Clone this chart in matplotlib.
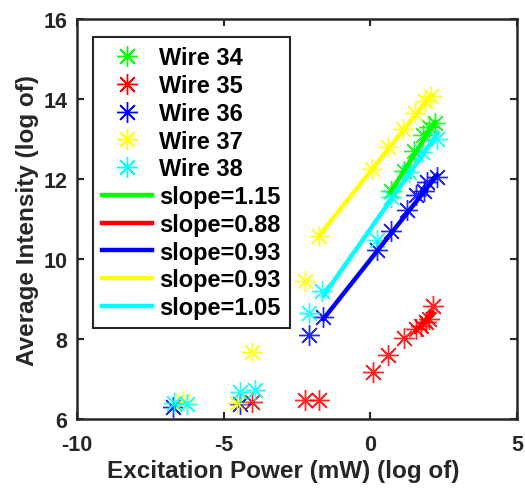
import numpy as np
import matplotlib
matplotlib.use('Agg')
import matplotlib.pyplot as plt

plt.rcParams['font.family'] = ['Liberation Sans', 'DejaVu Sans']
plt.rcParams['font.weight'] = 'bold'
plt.rcParams['axes.unicode_minus'] = False

# Wire data (log of excitation power, log of average intensity)
w34_x = [0.69, 1.15, 1.5, 1.8, 2.0, 2.2]
w34_y = [11.7, 12.2, 12.7, 13.1, 13.3, 13.4]
w35_x = [-4.04, -2.22, -1.76, 0.09, 0.6, 1.15, 1.55, 1.72, 1.89, 2.0, 2.14]
w35_y = [6.42, 6.48, 6.48, 7.18, 7.61, 8.02, 8.25, 8.33, 8.42, 8.5, 8.83]
w36_x = [-6.72, -4.44, -2.1, -1.6, 0.23, 0.69, 1.26, 1.55, 1.83, 1.94, 2.28]
w36_y = [6.3, 6.38, 8.1, 8.54, 10.23, 10.7, 11.23, 11.6, 11.7, 11.92, 12.04]
w37_x = [-6.38, -4.55, -4.04, -2.22, -1.76, 0.06, 0.6, 1.1, 1.53, 1.86, 2.08]
w37_y = [6.45, 6.4, 7.68, 9.46, 10.57, 12.25, 12.8, 13.26, 13.65, 13.95, 14.08]
w38_x = [-6.7, -6.26, -4.44, -3.92, -2.1, -1.65, 0.23, 0.69, 1.32, 1.77, 2.28]
w38_y = [6.4, 6.38, 6.67, 6.73, 8.65, 9.19, 10.48, 11.56, 12.17, 12.67, 13.0]

# fitted lines (end points)
fit_x = [[0.69, 2.2], [1.55, 2.11], [-1.6, 2.28], [-1.76, 2.08], [-1.6, 2.3]]
fit_y = [[11.68, 13.42], [8.21, 8.67], [8.5, 12.1], [10.57, 14.1], [9.08, 13.15]]
slopes = ['1.15', '0.88', '0.93', '0.93', '1.05']

wires = ['Wire 34', 'Wire 35', 'Wire 36', 'Wire 37', 'Wire 38']
colors = ['#00ff00', '#ff0000', '#0000ff', '#ffff00', '#00ffff']
xs = [w34_x, w35_x, w36_x, w37_x, w38_x]
ys = [w34_y, w35_y, w36_y, w37_y, w38_y]

fig = plt.figure(figsize=(5.25, 4.89), dpi=100)
ax = fig.add_axes([0.1467, 0.141, 0.838, 0.818])

for x, y, c, lab in zip(xs, ys, colors, wires):
    ax.plot(x, y, linestyle='none', marker=(8, 2, 0), markersize=15,
            markeredgewidth=1.0, color=c, alpha=0.85, label=lab)
for x, y, c, s in zip(fit_x, fit_y, colors, slopes):
    ax.plot(x, y, '-', color=c, linewidth=3.2, label='slope=' + s)

ax.set_xlim(-10, 5)
ax.set_ylim(6, 16)
ax.set_xticks([-10, -5, 0, 5])
ax.set_yticks([6, 8, 10, 12, 14, 16])
ax.tick_params(direction='in', top=True, right=True, length=5, width=1.5,
               labelsize=15.5, colors='#262626')
ax.tick_params(axis='x', pad=11)
ax.tick_params(axis='y', pad=7)
for sp in ax.spines.values():
    sp.set_linewidth(1.8)
    sp.set_color('#262626')

ax.set_xlabel('Excitation Power (mW) (log of)', fontsize=17.5,
              fontweight='bold', color='#262626')
ax.set_ylabel('Average Intensity (log of)', fontsize=17.5,
              fontweight='bold', color='#262626', labelpad=3)
ax.xaxis.set_label_coords(0.468, -0.1, transform=ax.transAxes)
ax.xaxis.label.set_verticalalignment('top')

leg = ax.legend(loc='upper left', fontsize=17, numpoints=1, handlelength=2.1,
                handletextpad=0.3, labelspacing=0.2, borderpad=0.4,
                borderaxespad=0, fancybox=False, framealpha=1,
                bbox_to_anchor=(0.036, 0.955))
leg.get_frame().set_edgecolor('#262626')
leg.get_frame().set_linewidth(1.5)
for h in leg.legend_handles:
    h.set_alpha(1)

fig.savefig('out.png', dpi=100)
